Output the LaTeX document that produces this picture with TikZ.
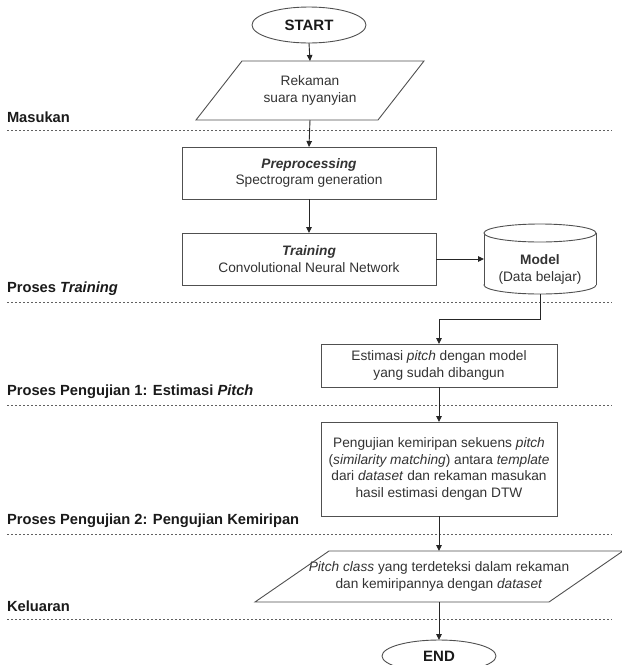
\documentclass[tikz,border=0pt]{standalone}
\usepackage{fontspec}
\setmainfont{Liberation Sans}
\usetikzlibrary{arrows.meta,shapes.geometric,calc}
\definecolor{linec}{HTML}{505050}
\definecolor{txtc}{HTML}{333333}
\definecolor{lblc}{HTML}{1A1A1A}
\definecolor{sepc}{HTML}{606060}
\begin{document}
\begin{tikzpicture}[x=1pt,y=-1pt,
  every node/.style={inner sep=0pt, outer sep=0pt},
  boxtext/.style={font=\fontsize{13.7}{16.6}\selectfont, text=txtc, align=center},
  procbox/.style={boxtext, draw=linec, line width=0.9pt, fill=white},
  shapeline/.style={draw=linec, line width=0.9pt},
  term/.style={ellipse, draw=linec, line width=0.9pt, fill=white, minimum width=114pt, minimum height=36pt, font=\bfseries\fontsize{15}{18}\selectfont, text=lblc},
  lane/.style={anchor=west, font=\bfseries\fontsize{14.7}{17}\selectfont, text=lblc},
  sepline/.style={draw=sepc, line width=0.8pt, dash pattern=on 2.2pt off 1.8pt},
  flow/.style={draw=black!85, line width=0.9pt, -{Triangle[length=6pt,width=5.5pt]}},
]
\useasboundingbox (0,0) rectangle (622,665);
\clip (0,0) rectangle (622,665);

% separators
\draw[sepline] (7,130) -- (612,130);
\draw[sepline] (7,302) -- (612,302);
\draw[sepline] (7,405) -- (612,405);
\draw[sepline] (7,534) -- (612,534);
\draw[sepline] (7,619) -- (612,619);

% lane labels
\node[lane] (l1) at (7,117) {Masukan};
\node[lane] (l2) at (7,289) {Proses \textit{Training}};
\node[lane] (l3) at (7,392) {Proses Pengujian 1: Estimasi \textit{Pitch}};
\node[lane] (l4) at (7,521) {Proses Pengujian 2: Pengujian Kemiripan};
\node[lane] (l5) at (7,606) {Keluaran};

% start
\node[term] (start) at (309,25) {START};

% input parallelogram
\node[boxtext, minimum width=182pt, minimum height=59pt] (in) at (310,90.5) {Rekaman\\suara nyanyian};
\draw[shapeline] ($(in.south west)+(-23,0)$) -- ($(in.south east)+(-23,0)$) -- ($(in.north east)+(23,0)$) -- ($(in.north west)+(23,0)$) -- cycle;

% process boxes
\node[procbox, minimum width=254pt, minimum height=52pt] (pre) at (309,173) {\textbf{\textit{Preprocessing}}\\Spectrogram generation};
\node[procbox, minimum width=254pt, minimum height=52pt] (train) at (309,259) {\textbf{\textit{Training}}\\Convolutional Neural Network};

% model cylinder
\draw[shapeline, fill=white] (540,285) ellipse [x radius=56, y radius=9];
\fill[white] (484,233) rectangle (596,285);
\draw[shapeline] (484,233) -- (484,285) (596,233) -- (596,285);
\draw[shapeline, fill=white] (540,233) ellipse [x radius=56, y radius=9];
\node[boxtext, minimum width=112pt, minimum height=49pt] (model) at (540,269.5) {\textbf{Model}\\(Data belajar)};

\node[procbox, minimum width=236pt, minimum height=43pt] (est) at (439,365.5) {Estimasi \textit{pitch} dengan model\\yang sudah dibangun};
\node[procbox, minimum width=236pt, minimum height=94pt] (uji) at (439,469) {Pengujian kemiripan sekuens \textit{pitch}\\(\textit{similarity matching}) antara \textit{template}\\dari \textit{dataset} dan rekaman masukan\\hasil estimasi dengan DTW};

% output parallelogram
\node[boxtext, minimum width=294pt, minimum height=51pt] (out) at (439,576.5) {\textit{Pitch class} yang terdeteksi dalam rekaman\\dan kemiripannya dengan \textit{dataset}};
\draw[shapeline] ($(out.south west)+(-37,0)$) -- ($(out.south east)+(-37,0)$) -- ($(out.north east)+(37,0)$) -- ($(out.north west)+(37,0)$) -- cycle;

% end
\node[term, minimum height=32pt] (stop) at (439,656) {END};

% connectors
\draw[flow] (start.south) -- (in.north);
\draw[flow] (in.south) -- (pre.north);
\draw[flow] (pre.south) -- (train.north);
\draw[flow] (train.east) -- (train.east -| model.west);
\draw[flow] (model.south) -- ++(0,25) -| (est.north);
\draw[flow] (est.south) -- (uji.north);
\draw[flow] (uji.south) -- (out.north);
\draw[flow] (out.south) -- (stop.north);
\end{tikzpicture}
\end{document}
